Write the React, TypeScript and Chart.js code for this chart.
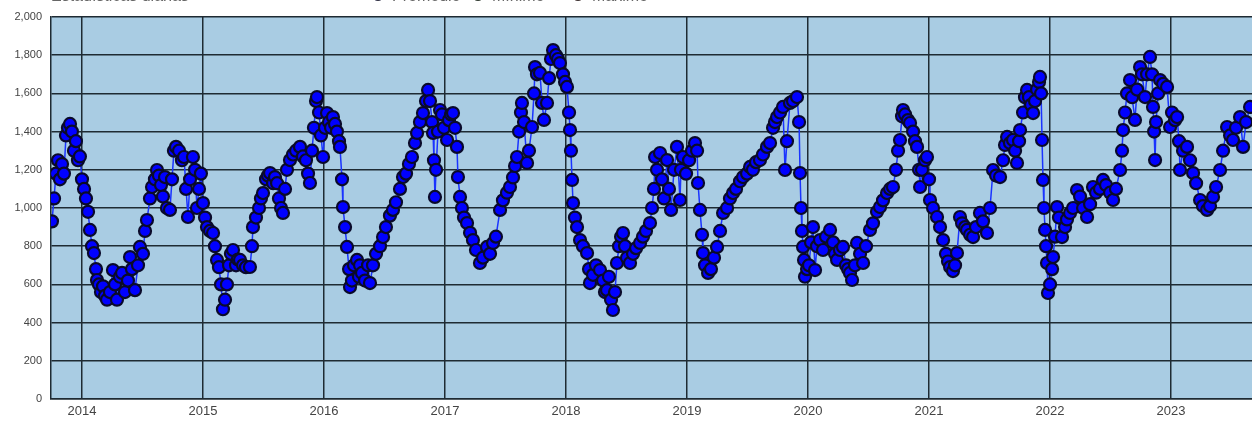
import React, { useEffect, useRef } from "react";
import { Chart, registerables } from "chart.js";

Chart.register(...registerables);

const chartTitle = "Estadísticas diarias";
const seriesLabels = ["Promedio", "Mínimo", "Máximo"];
const seriesColors = ["#0000ff", "#1e8c1e", "#b22222"];
const tickYears = [2014, 2015, 2016, 2017, 2018, 2019, 2020, 2021, 2022, 2023];
const xMin = 2013.744;
const xMax = 2023.669;

// fecha (año decimal) de cada observación leída
const years = [
  2013.752, 2013.769, 2013.785, 2013.802, 2013.818, 2013.835, 2013.851, 2013.868, 2013.884, 2013.901,
  2013.917, 2013.934, 2013.95, 2013.967, 2013.983, 2014.0, 2014.017, 2014.033, 2014.05, 2014.066,
  2014.083, 2014.099, 2014.116, 2014.124, 2014.14, 2014.157, 2014.174, 2014.19, 2014.207, 2014.231,
  2014.256, 2014.273, 2014.289, 2014.314, 2014.331, 2014.355, 2014.38, 2014.397, 2014.413, 2014.438,
  2014.463, 2014.479, 2014.504, 2014.521, 2014.537, 2014.562, 2014.579, 2014.603, 2014.62, 2014.636,
  2014.653, 2014.669, 2014.686, 2014.702, 2014.727, 2014.744, 2014.76, 2014.777, 2014.802, 2014.826,
  2014.843, 2014.86, 2014.876, 2014.893, 2014.917, 2014.934, 2014.95, 2014.967, 2014.983, 2015.0,
  2015.017, 2015.033, 2015.058, 2015.083, 2015.099, 2015.116, 2015.132, 2015.149, 2015.165, 2015.182,
  2015.198, 2015.215, 2015.231, 2015.248, 2015.273, 2015.289, 2015.306, 2015.331, 2015.355, 2015.388,
  2015.405, 2015.413, 2015.438, 2015.463, 2015.479, 2015.496, 2015.521, 2015.537, 2015.554, 2015.579,
  2015.595, 2015.612, 2015.628, 2015.645, 2015.661, 2015.678, 2015.694, 2015.719, 2015.744, 2015.769,
  2015.802, 2015.826, 2015.851, 2015.868, 2015.884, 2015.901, 2015.917, 2015.934, 2015.942, 2015.959,
  2015.975, 2015.992, 2016.008, 2016.025, 2016.041, 2016.058, 2016.074, 2016.091, 2016.107, 2016.124,
  2016.132, 2016.149, 2016.157, 2016.174, 2016.19, 2016.207, 2016.215, 2016.231, 2016.248, 2016.273,
  2016.289, 2016.298, 2016.314, 2016.339, 2016.364, 2016.38, 2016.405, 2016.43, 2016.463, 2016.488,
  2016.512, 2016.545, 2016.57, 2016.595, 2016.628, 2016.653, 2016.678, 2016.702, 2016.727, 2016.752,
  2016.769, 2016.793, 2016.818, 2016.843, 2016.86, 2016.876, 2016.893, 2016.901, 2016.909, 2016.917,
  2016.926, 2016.942, 2016.959, 2016.975, 2016.992, 2017.017, 2017.033, 2017.05, 2017.066, 2017.083,
  2017.099, 2017.107, 2017.124, 2017.14, 2017.157, 2017.182, 2017.207, 2017.231, 2017.256, 2017.289,
  2017.314, 2017.347, 2017.372, 2017.397, 2017.421, 2017.455, 2017.479, 2017.512, 2017.537, 2017.562,
  2017.579, 2017.595, 2017.612, 2017.628, 2017.636, 2017.653, 2017.678, 2017.694, 2017.719, 2017.736,
  2017.744, 2017.76, 2017.785, 2017.802, 2017.818, 2017.843, 2017.86, 2017.876, 2017.893, 2017.917,
  2017.934, 2017.95, 2017.975, 2017.992, 2018.008, 2018.025, 2018.033, 2018.041, 2018.05, 2018.058,
  2018.074, 2018.091, 2018.116, 2018.14, 2018.174, 2018.19, 2018.198, 2018.223, 2018.248, 2018.281,
  2018.306, 2018.322, 2018.339, 2018.355, 2018.372, 2018.388, 2018.405, 2018.421, 2018.438, 2018.455,
  2018.471, 2018.488, 2018.504, 2018.529, 2018.554, 2018.579, 2018.612, 2018.636, 2018.661, 2018.694,
  2018.711, 2018.727, 2018.736, 2018.752, 2018.777, 2018.793, 2018.81, 2018.835, 2018.851, 2018.868,
  2018.893, 2018.917, 2018.942, 2018.95, 2018.967, 2018.992, 2019.017, 2019.041, 2019.066, 2019.083,
  2019.091, 2019.107, 2019.124, 2019.132, 2019.149, 2019.174, 2019.198, 2019.223, 2019.248, 2019.273,
  2019.298, 2019.331, 2019.355, 2019.38, 2019.405, 2019.438, 2019.463, 2019.496, 2019.521, 2019.545,
  2019.57, 2019.603, 2019.628, 2019.661, 2019.686, 2019.711, 2019.727, 2019.744, 2019.769, 2019.793,
  2019.81, 2019.826, 2019.851, 2019.876, 2019.909, 2019.926, 2019.934, 2019.942, 2019.95, 2019.959,
  2019.967, 2019.975, 2019.992, 2020.008, 2020.025, 2020.041, 2020.058, 2020.074, 2020.099, 2020.124,
  2020.149, 2020.182, 2020.207, 2020.223, 2020.24, 2020.264, 2020.289, 2020.314, 2020.331, 2020.347,
  2020.364, 2020.388, 2020.405, 2020.43, 2020.455, 2020.479, 2020.512, 2020.537, 2020.57, 2020.595,
  2020.62, 2020.653, 2020.678, 2020.702, 2020.727, 2020.744, 2020.76, 2020.777, 2020.785, 2020.802,
  2020.826, 2020.843, 2020.868, 2020.884, 2020.901, 2020.917, 2020.926, 2020.942, 2020.967, 2020.983,
  2021.0, 2021.008, 2021.033, 2021.066, 2021.091, 2021.116, 2021.14, 2021.157, 2021.174, 2021.198,
  2021.215, 2021.231, 2021.256, 2021.273, 2021.298, 2021.314, 2021.339, 2021.364, 2021.388, 2021.421,
  2021.446, 2021.479, 2021.504, 2021.529, 2021.554, 2021.587, 2021.612, 2021.628, 2021.645, 2021.669,
  2021.694, 2021.711, 2021.727, 2021.744, 2021.752, 2021.777, 2021.793, 2021.81, 2021.826, 2021.843,
  2021.86, 2021.876, 2021.893, 2021.909, 2021.917, 2021.926, 2021.934, 2021.942, 2021.95, 2021.959,
  2021.967, 2021.975, 2021.983, 2022.0, 2022.017, 2022.025, 2022.041, 2022.058, 2022.074, 2022.099,
  2022.124, 2022.14, 2022.165, 2022.19, 2022.223, 2022.248, 2022.273, 2022.306, 2022.331, 2022.355,
  2022.38, 2022.413, 2022.438, 2022.463, 2022.496, 2022.521, 2022.545, 2022.579, 2022.595, 2022.603,
  2022.62, 2022.636, 2022.661, 2022.678, 2022.702, 2022.719, 2022.744, 2022.76, 2022.785, 2022.802,
  2022.826, 2022.843, 2022.851, 2022.86, 2022.868, 2022.876, 2022.893, 2022.909, 2022.934, 2022.967,
  2022.992, 2023.008, 2023.033, 2023.05, 2023.066, 2023.074, 2023.099, 2023.132, 2023.157, 2023.182,
  2023.207, 2023.24, 2023.264, 2023.298, 2023.322, 2023.347, 2023.372, 2023.405, 2023.43, 2023.463,
  2023.488, 2023.512, 2023.537, 2023.57, 2023.595, 2023.62, 2023.653,
];

// promedio diario
const values = [
  930, 1050, 1180, 1250, 1150, 1230, 1180, 1380, 1420, 1440,
  1400, 1300, 1350, 1250, 1270, 1150, 1100, 1050, 980, 885,
  800, 764, 680, 623, 600, 560, 590, 540, 520, 560,
  675, 600, 520, 640, 660, 560, 620, 743, 680, 570,
  700, 796, 760, 880, 937, 1050, 1110, 1150, 1199, 1170,
  1120, 1060, 1162, 1000, 990, 1150, 1300, 1320, 1300, 1250,
  1267, 1100, 953, 1150, 1267, 1200, 1000, 1100, 1180, 1026,
  950, 900, 880, 869, 800, 728, 690, 600, 470, 520,
  600, 700, 760, 780, 700, 730, 728, 700, 690, 691,
  800, 900, 950, 1000, 1050, 1078, 1150, 1170, 1183, 1130,
  1162, 1130, 1050, 1000, 974, 1100, 1200, 1251, 1280, 1300,
  1320, 1270, 1250, 1180, 1131, 1300, 1420, 1560, 1581, 1500,
  1380, 1267, 1420, 1497, 1450, 1420, 1476, 1440, 1400, 1350,
  1320, 1150, 1005, 900, 796, 680, 586, 620, 700, 728,
  640, 700, 660, 620, 700, 607, 700, 760, 800, 848,
  900, 960, 990, 1030, 1100, 1162, 1180, 1230, 1267, 1340,
  1393, 1450, 1497, 1560, 1618, 1560, 1450, 1393, 1250, 1058,
  1200, 1400, 1513, 1490, 1420, 1356, 1460, 1490, 1497, 1420,
  1320, 1162, 1058, 1000, 950, 921, 870, 832, 780, 712,
  740, 796, 760, 817, 850, 990, 1040, 1080, 1110, 1160,
  1220, 1267, 1400, 1500, 1550, 1450, 1236, 1300, 1424, 1600,
  1738, 1700, 1707, 1550, 1461, 1550, 1680, 1780, 1827, 1800,
  1780, 1759, 1700, 1660, 1634, 1500, 1408, 1300, 1147, 1026,
  950, 900, 832, 800, 764, 680, 607, 650, 700, 675,
  620, 560, 570, 640, 520, 466, 560, 712, 800, 850,
  869, 800, 740, 712, 760, 790, 817, 850, 880, 921,
  1000, 1100, 1267, 1200, 1288, 1150, 1050, 1251, 1100, 990,
  1200, 1320, 1042, 1200, 1267, 1180, 1250, 1300, 1340, 1300,
  1131, 990, 860, 764, 700, 660, 680, 740, 796, 880,
  974, 1000, 1050, 1078, 1100, 1140, 1162, 1180, 1215, 1200,
  1240, 1251, 1280, 1320, 1340, 1420, 1450, 1476, 1500, 1529,
  1199, 1350, 1550, 1560, 1581, 1450, 1183, 1000, 880, 796,
  728, 640, 680, 700, 820, 900, 675, 800, 832, 780,
  850, 885, 820, 760, 728, 780, 796, 700, 680, 660,
  623, 700, 817, 760, 712, 800, 885, 920, 980, 1005,
  1040, 1078, 1100, 1110, 1200, 1300, 1356, 1480, 1513, 1490,
  1460, 1445, 1400, 1350, 1320, 1200, 1110, 1200, 1250, 1267,
  1150, 1042, 1000, 953, 900, 832, 760, 720, 691, 670,
  700, 764, 953, 920, 900, 885, 860, 848, 900, 974,
  930, 869, 1000, 1199, 1170, 1162, 1250, 1330, 1372, 1340,
  1356, 1300, 1236, 1350, 1408, 1500, 1580, 1618, 1580, 1540,
  1497, 1560, 1620, 1660, 1686, 1600, 1356, 1147, 1000, 885,
  800, 712, 555, 600, 680, 743, 850, 1005, 950, 848,
  900, 940, 974, 1000, 1094, 1060, 1000, 953, 1020, 1110,
  1080, 1100, 1147, 1120, 1080, 1042, 1100, 1199, 1300, 1408,
  1500, 1600, 1670, 1580, 1461, 1620, 1738, 1700, 1581, 1700,
  1791, 1700, 1529, 1400, 1251, 1450, 1600, 1670, 1650, 1634,
  1424, 1500, 1460, 1476, 1350, 1199, 1300, 1320, 1250, 1183,
  1130, 1042, 1010, 990, 1010, 1058, 1110, 1199, 1300, 1424,
  1380, 1356, 1420, 1476, 1320, 1450, 1529,
];

const minValues: number[] = [];
const maxValues: number[] = [];

const plotBackground = {
  id: "plotBackground",
  beforeDraw(chart: any) {
    const { ctx, chartArea } = chart;
    ctx.save();
    ctx.fillStyle = "#a9cce3";
    ctx.fillRect(chartArea.left, chartArea.top, chartArea.right - chartArea.left, chartArea.bottom - chartArea.top);
    ctx.restore();
  },
};

const headerPlugin = {
  id: "header",
  afterDraw(chart: any) {
    const { ctx } = chart;
    ctx.save();
    ctx.font = '16px "Liberation Sans", Arial, sans-serif';
    ctx.textBaseline = "alphabetic";
    ctx.fillStyle = "#666";
    ctx.textAlign = "left";
    ctx.fillText(chartTitle, 51, 21);
    chart.data.datasets.forEach((ds: any, i: number) => {
      const cx = 378 + i * 100;
      ctx.beginPath();
      ctx.arc(cx, 15, 5.5, 0, Math.PI * 2);
      ctx.fillStyle = ds.pointBackgroundColor;
      ctx.fill();
      ctx.lineWidth = 1.2;
      ctx.strokeStyle = "#333";
      ctx.stroke();
      ctx.fillStyle = "#666";
      ctx.fillText(ds.label, cx + 14, 21);
    });
    ctx.restore();
  },
};

export default function App() {
  const ref = useRef<HTMLCanvasElement>(null);
  useEffect(() => {
    if (!ref.current) return;
    const chart = new Chart(ref.current, {
      type: "line",
      data: {
        datasets: [
          {
            label: seriesLabels[0],
            data: years.map((x, i) => ({ x, y: values[i] })),
            borderColor: "#1a33ff",
            borderWidth: 1.5,
            pointRadius: 6,
            pointBackgroundColor: seriesColors[0],
            pointBorderColor: "#0a0a2a",
            pointBorderWidth: 2.2,
            tension: 0,
          },
          {
            label: seriesLabels[1],
            data: minValues,
            pointBackgroundColor: seriesColors[1],
            borderColor: seriesColors[1],
          },
          {
            label: seriesLabels[2],
            data: maxValues,
            pointBackgroundColor: seriesColors[2],
            borderColor: seriesColors[2],
          },
        ],
      },
      options: {
        animation: false,
        responsive: false,
        devicePixelRatio: 1,
        layout: { autoPadding: false, padding: { top: 37, left: 0, right: 0, bottom: 0 } },
        plugins: { legend: { display: false }, tooltip: { enabled: false }, title: { display: false } },
        scales: {
          x: {
            type: "linear",
            min: xMin,
            max: xMax,
            afterBuildTicks: (axis: any) => {
              axis.ticks = tickYears.map((v) => ({ value: v }));
            },
            afterFit: (axis: any) => {
              axis.height = 23;
            },
            ticks: {
              autoSkip: false,
              maxRotation: 0,
              padding: 5,
              color: "#444",
              font: { family: '"Liberation Sans", Arial, sans-serif', size: 13 },
              callback: (v: any) => String(v),
            },
            grid: { color: "#1e2a33", lineWidth: 1.5, drawTicks: false },
            border: { display: true, color: "#1e2a33", width: 1.5 },
          },
          y: {
            min: 0,
            max: 2000,
            afterFit: (axis: any) => {
              axis.width = 51;
            },
            ticks: {
              stepSize: 200,
              padding: 9,
              color: "#444",
              font: { family: '"Liberation Sans", Arial, sans-serif', size: 11 },
              callback: (v: any) => Number(v).toLocaleString("en-US"),
            },
            grid: { color: "#1e2a33", lineWidth: 1.5, drawTicks: false },
            border: { display: true, color: "#1e2a33", width: 1.5 },
          },
        },
      },
      plugins: [plotBackground, headerPlugin],
    });
    return () => chart.destroy();
  }, []);
  return (
    <div style={{ position: "fixed", left: 0, top: -20, width: 1252, height: 442 }}>
      <canvas ref={ref} width={1252} height={442} style={{ width: 1252, height: 442, display: "block" }} />
    </div>
  );
}
